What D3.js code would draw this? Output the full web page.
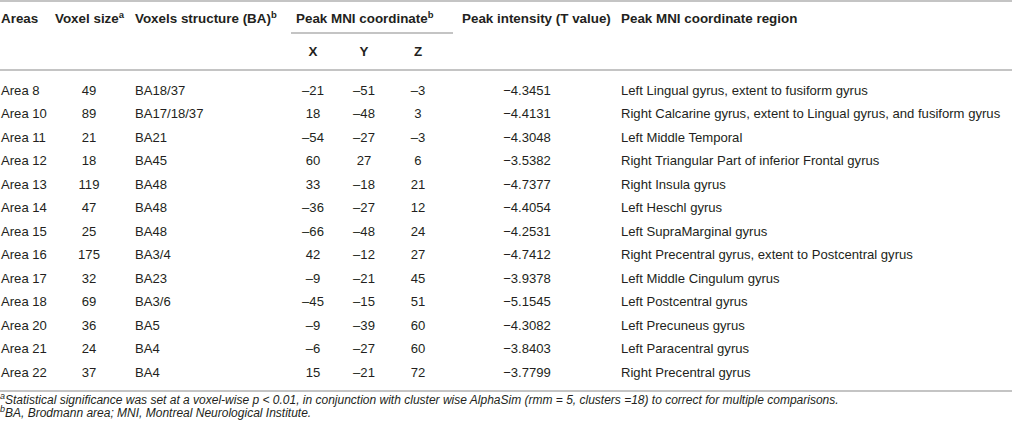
<!DOCTYPE html>
<html>
<head>
<meta charset="utf-8">
<script src="https://cdn.jsdelivr.net/npm/d3@7"></script>
<style>
    body { margin: 0; background: #fff; }
    #chart { width: 1012px; height: 431px; }
    text { font-family: "Liberation Sans", Arial, sans-serif; fill: #231f20; }
    .head { font-weight: bold; font-size: 13.4px; }
    .cell { font-size: 13.1px; }
    .note { font-size: 12px; font-style: italic; }
    .rule { stroke: #b0b0b0; stroke-width: 1.6; }
</style>
</head>
<body>
<div id="chart"></div>
<script>

// table data, one array per column
const areas = ["Area 8","Area 10","Area 11","Area 12","Area 13","Area 14","Area 15","Area 16","Area 17","Area 18","Area 20","Area 21","Area 22"];
const voxelSize = [49, 89, 21, 18, 119, 47, 25, 175, 32, 69, 36, 24, 37];
const structure = ["BA18/37","BA17/18/37","BA21","BA45","BA48","BA48","BA48","BA3/4","BA23","BA3/6","BA5","BA4","BA4"];
const coordX = [-21, 18, -54, 60, 33, -36, -66, 42, -9, -45, -9, -6, 15];
const coordY = [-51, -48, -27, 27, -18, -27, -48, -12, -21, -15, -39, -27, -21];
const coordZ = [-3, 3, -3, 6, 21, 12, 24, 27, 45, 51, 60, 60, 72];
const tValue = [-4.3451, -4.4131, -4.3048, -3.5382, -4.7377, -4.4054, -4.2531, -4.7412, -3.9378, -5.1545, -4.3082, -3.8403, -3.7799];
const region = [
    "Left Lingual gyrus, extent to fusiform gyrus",
    "Right Calcarine gyrus, extent to Lingual gyrus, and fusiform gyrus",
    "Left Middle Temporal",
    "Right Triangular Part of inferior Frontal gyrus",
    "Right Insula gyrus",
    "Left Heschl gyrus",
    "Left SupraMarginal gyrus",
    "Right Precentral gyrus, extent to Postcentral gyrus",
    "Left Middle Cingulum gyrus",
    "Left Postcentral gyrus",
    "Left Precuneus gyrus",
    "Left Paracentral gyrus",
    "Right Precentral gyrus"
];

const headers = ["Areas", "Voxel size", "Voxels structure (BA)", "Peak MNI coordinate", "Peak intensity (T value)", "Peak MNI coordinate region"];
const headerSup = ["", "a", "b", "b", "", ""];
const subHeaders = ["X", "Y", "Z"];
const footnotes = [
    {sup: "a", text: "Statistical significance was set at a voxel-wise p < 0.01, in conjunction with cluster wise AlphaSim (rmm = 5, clusters =18) to correct for multiple comparisons."},
    {sup: "b", text: "BA, Brodmann area; MNI, Montreal Neurological Institute."}
];

const data = areas.map(function(a, i) {
    return {
        area: a,
        size: voxelSize[i],
        ba: structure[i],
        x: coordX[i],
        y: coordY[i],
        z: coordZ[i],
        t: tValue[i],
        region: region[i]
    };
});

const width = 1012;
const height = 431;

const svg = d3.select("#chart")
    .append("svg")
    .attr("width", width)
    .attr("height", height);

/*
SCALES: rows and columns
*/
const yScale = d3.scalePoint()
    .domain(areas)
    .range([90, 372]);

// column anchors
const colX = {area: 1, size: 89, ba: 135, x: 313, y: 364, z: 418, t: 527, region: 621};
const headX = [1, 55, 135, 296, 462, 621];

// en dash for coordinates, minus sign for T values (as in the print)
const fmtCoord = function(v) { return v < 0 ? "\u2013" + Math.abs(v) : String(v); };
const fmtT = function(v) { return "\u2212" + d3.format(".4f")(Math.abs(v)); };

/*
RULES
*/
const rules = [
    {x1: 0, x2: width, y: 1},
    {x1: 291, x2: 453, y: 33},
    {x1: 0, x2: width, y: 70},
    {x1: 0, x2: width, y: 391}
];
svg.selectAll("line.rule")
    .data(rules)
    .enter()
    .append("line")
        .attr("class", "rule")
        .attr("x1", function(d) { return d.x1; })
        .attr("x2", function(d) { return d.x2; })
        .attr("y1", function(d) { return d.y; })
        .attr("y2", function(d) { return d.y; });

/*
HEADER
*/
const head = svg.selectAll("text.head")
    .data(headers)
    .enter()
    .append("text")
        .attr("class", "head")
        .attr("x", function(d, i) { return headX[i]; })
        .attr("y", 18)
        .attr("dy", "0.35em")
        .text(function(d) { return d; });

head.append("tspan")
    .attr("dy", "-0.45em")
    .attr("font-size", "9.5px")
    .text(function(d, i) { return headerSup[i]; });

const subX = [colX.x, colX.y, colX.z];
svg.selectAll("text.sub")
    .data(subHeaders)
    .enter()
    .append("text")
        .attr("class", "head sub")
        .attr("x", function(d, i) { return subX[i]; })
        .attr("y", 51)
        .attr("dy", "0.35em")
        .attr("text-anchor", "middle")
        .text(function(d) { return d; });

/*
BODY
*/
const columns = [
    {key: "area", anchor: "start", f: function(d) { return d.area; }},
    {key: "size", anchor: "middle", f: function(d) { return d.size; }},
    {key: "ba", anchor: "start", f: function(d) { return d.ba; }},
    {key: "x", anchor: "middle", f: function(d) { return fmtCoord(d.x); }},
    {key: "y", anchor: "middle", f: function(d) { return fmtCoord(d.y); }},
    {key: "z", anchor: "middle", f: function(d) { return fmtCoord(d.z); }},
    {key: "t", anchor: "middle", f: function(d) { return fmtT(d.t); }},
    {key: "region", anchor: "start", f: function(d) { return d.region; }}
];

const rows = svg.selectAll("g.row")
    .data(data)
    .enter()
    .append("g")
        .attr("class", "row")
        .attr("transform", function(d) { return `translate(0,${yScale(d.area)})`; });

columns.forEach(function(c) {
    rows.append("text")
        .attr("class", "cell")
        .attr("x", colX[c.key])
        .attr("dy", "0.35em")
        .attr("text-anchor", c.anchor)
        .text(c.f);
});

/*
FOOTNOTES
*/
const notes = svg.selectAll("text.note")
    .data(footnotes)
    .enter()
    .append("text")
        .attr("class", "note")
        .attr("x", 0)
        .attr("y", function(d, i) { return 403 + i * 12.5; })
        .attr("dy", "0.35em");

notes.append("tspan")
    .attr("font-size", "9px")
    .attr("dy", "-0.4em")
    .text(function(d) { return d.sup; });

notes.append("tspan")
    .attr("dy", "0.4em")
    .text(function(d) { return d.text; });

</script>
</body>
</html>
